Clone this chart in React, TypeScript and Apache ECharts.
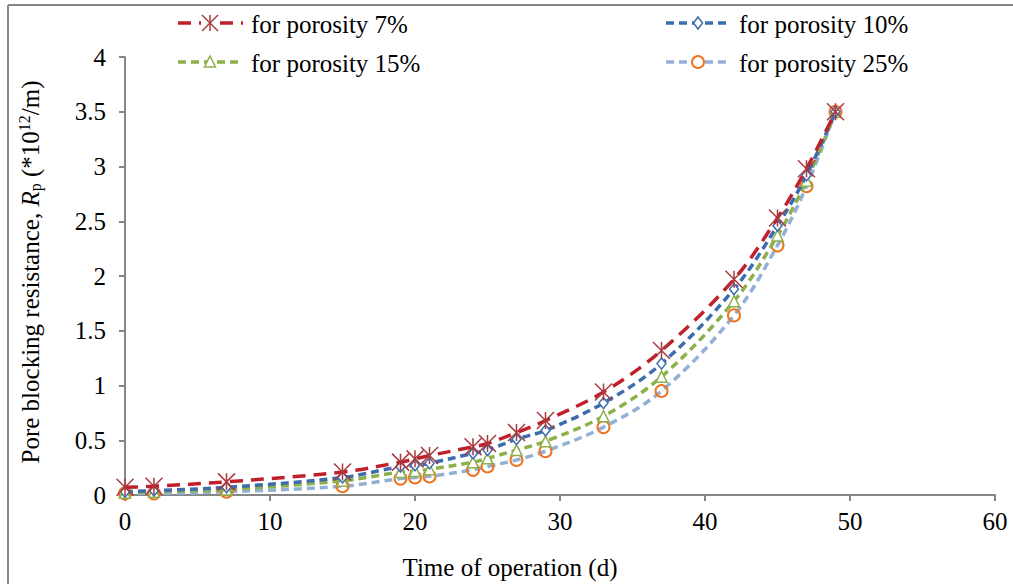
import React, { useEffect, useRef } from "react";
import * as echarts from "echarts";

const days = [0, 2, 7, 15, 19, 20, 21, 24, 25, 27, 29, 33, 37, 42, 45, 47, 49];
const p7 = [0.07, 0.08, 0.12, 0.21, 0.3, 0.33, 0.36, 0.44, 0.47, 0.57, 0.68, 0.94, 1.32, 1.97, 2.53, 2.98, 3.5];
const p10 = [0.03, 0.04, 0.07, 0.16, 0.26, 0.27, 0.29, 0.38, 0.41, 0.51, 0.59, 0.84, 1.2, 1.88, 2.46, 2.92, 3.5];
const p15 = [0.02, 0.03, 0.05, 0.13, 0.21, 0.22, 0.235, 0.3, 0.335, 0.41, 0.49, 0.72, 1.08, 1.77, 2.37, 2.87, 3.5];
const p25 = [0.015, 0.015, 0.03, 0.08, 0.15, 0.16, 0.17, 0.23, 0.26, 0.32, 0.4, 0.62, 0.95, 1.64, 2.28, 2.82, 3.5];
const seriesNames = ["for porosity 7%", "for porosity 10%", "for porosity 15%", "for porosity 25%"];

const FONT = "Liberation Serif";
const FS = 25;
const AXIS_COLOR = "#868686";
const ASTERISK = "path://M0,0 L10,10 M10,0 L0,10 M5,0 L5,10";

const LINE_COLORS = ["#C0202C", "#3D6DAE", "#8CB04B", "#93B0D6"];
const MARK_COLORS = ["#A83A3E", "#3D6DAE", "#8CB04B", "#EE7423"];
const DASHES = [[13, 8], [8, 5], [8, 5], [8, 5]];

// [iconLeft, rowCenterY]
const legendSlots = [
  [178, 23],
  [666, 23],
  [178, 62],
  [666, 62],
];

const zip = (vals: number[]) => days.map((d, i) => [d, vals[i]]);

function legendIcon(i: number, x0: number, y: number): any[] {
  const cx = x0 + 32;
  const els: any[] = [
    {
      type: "line",
      shape: { x1: x0, y1: y, x2: x0 + 65, y2: y },
      style: { stroke: LINE_COLORS[i], lineWidth: 3.5, lineDash: DASHES[i] },
    },
  ];
  const c = MARK_COLORS[i];
  if (i === 0) {
    const r = 8;
    els.push(
      { type: "rect", shape: { x: cx - 9, y: y - 9, width: 18, height: 18 }, style: { fill: "#fff" } },
      { type: "line", shape: { x1: cx - r, y1: y - r, x2: cx + r, y2: y + r }, style: { stroke: c, lineWidth: 1.5 } },
      { type: "line", shape: { x1: cx + r, y1: y - r, x2: cx - r, y2: y + r }, style: { stroke: c, lineWidth: 1.5 } },
      { type: "line", shape: { x1: cx, y1: y - r, x2: cx, y2: y + r }, style: { stroke: c, lineWidth: 1.5 } }
    );
  } else if (i === 1) {
    els.push({
      type: "polygon",
      shape: { points: [[cx, y - 6], [cx + 4.5, y], [cx, y + 6], [cx - 4.5, y]] },
      style: { fill: "#fff", stroke: c, lineWidth: 1.5 },
    });
  } else if (i === 2) {
    els.push({
      type: "polygon",
      shape: { points: [[cx, y - 6], [cx + 5.5, y + 5], [cx - 5.5, y + 5]] },
      style: { fill: "#fff", stroke: c, lineWidth: 1.5 },
    });
  } else {
    els.push({ type: "circle", shape: { cx, cy: y, r: 6 }, style: { fill: "#fff", stroke: c, lineWidth: 2 } });
  }
  return els;
}

export default function App() {
  const ref = useRef<HTMLDivElement>(null);
  useEffect(() => {
    if (!ref.current) return;
    const chart = echarts.init(ref.current, null, { renderer: "svg" });
    const legendEls: any[] = [];
    seriesNames.forEach((name, i) => {
      const [x0, y] = legendSlots[i];
      legendEls.push(...legendIcon(i, x0, y));
      legendEls.push({
        type: "text",
        x: x0 + 73,
        y: y + 1,
        style: {
          text: name,
          font: "25px 'Times New Roman', 'Liberation Serif', serif",
          fontFamily: "Times New Roman",
          fontSize: FS,
          fill: "#000",
          textAlign: "left",
          textVerticalAlign: "middle",
        },
      });
    });
    chart.setOption({
      animation: false,
      backgroundColor: "#fff",
      textStyle: { fontFamily: FONT, fontSize: FS, color: "#000" },
      grid: { left: 125, right: 18, top: 57, bottom: 89 },
      xAxis: {
        type: "value",
        min: 0,
        max: 60,
        interval: 10,
        axisLine: { show: true, lineStyle: { color: AXIS_COLOR, width: 2 } },
        axisTick: { show: true, length: 6, lineStyle: { color: AXIS_COLOR, width: 2 } },
        splitLine: { show: false },
        axisLabel: { fontFamily: FONT, fontSize: FS, color: "#000", margin: 14 },
      },
      yAxis: {
        type: "value",
        min: 0,
        max: 4,
        interval: 0.5,
        axisLine: { show: true, lineStyle: { color: AXIS_COLOR, width: 2 } },
        axisTick: { show: true, length: 6, lineStyle: { color: AXIS_COLOR, width: 2 } },
        splitLine: { show: false },
        axisLabel: { fontFamily: FONT, fontSize: FS, color: "#000", margin: 19 },
      },
      graphic: [
        { type: "line", shape: { x1: 8, y1: 5, x2: 1013, y2: 5 }, style: { stroke: AXIS_COLOR, lineWidth: 2 } },
        { type: "line", shape: { x1: 8, y1: 5, x2: 8, y2: 584 }, style: { stroke: AXIS_COLOR, lineWidth: 2 } },
        {
          type: "text",
          x: 510,
          y: 567,
          style: {
            text: "Time of operation (d)",
            fontFamily: FONT,
            fontSize: FS,
            fill: "#000",
            textAlign: "center",
            textVerticalAlign: "middle",
          },
        },
        {
          type: "text",
          x: 30,
          y: 272,
          rotation: Math.PI / 2,
          style: {
            text: "Pore blocking resistance, {i|R}{sub|p} (*10{sup|12}/m)",
            fontFamily: FONT,
            fontSize: FS,
            fill: "#000",
            textAlign: "center",
            textVerticalAlign: "middle",
            rich: {
              i: { fontFamily: FONT, fontSize: FS, fontStyle: "italic", fill: "#000" },
              sub: { fontFamily: FONT, fontSize: 16, fill: "#000", padding: [10, 0, 0, 0] },
              sup: { fontFamily: FONT, fontSize: 16, fill: "#000", padding: [0, 0, 12, 0] },
            },
          },
        },
        ...legendEls,
      ],
      series: [
        {
          name: seriesNames[0],
          type: "line",
          data: zip(p7),
          smooth: 0.35,
          symbol: ASTERISK,
          symbolSize: 17,
          z: 5,
          lineStyle: { color: LINE_COLORS[0], width: 3.5, type: DASHES[0] },
          itemStyle: { color: "none", borderColor: MARK_COLORS[0], borderWidth: 1.5 },
        },
        {
          name: seriesNames[1],
          type: "line",
          data: zip(p10),
          smooth: 0.35,
          symbol: "diamond",
          symbolSize: [9, 11],
          z: 4,
          lineStyle: { color: LINE_COLORS[1], width: 3.5, type: DASHES[1] },
          itemStyle: { color: "#fff", borderColor: MARK_COLORS[1], borderWidth: 1.5 },
        },
        {
          name: seriesNames[2],
          type: "line",
          data: zip(p15),
          smooth: 0.35,
          symbol: "triangle",
          symbolSize: [11, 11],
          z: 3,
          lineStyle: { color: LINE_COLORS[2], width: 3.5, type: DASHES[2] },
          itemStyle: { color: "#fff", borderColor: MARK_COLORS[2], borderWidth: 1.5 },
        },
        {
          name: seriesNames[3],
          type: "line",
          data: zip(p25),
          smooth: 0.35,
          symbol: "circle",
          symbolSize: 12,
          z: 2,
          lineStyle: { color: LINE_COLORS[3], width: 3.5, type: DASHES[3] },
          itemStyle: { color: "none", borderColor: MARK_COLORS[3], borderWidth: 2 },
        },
      ],
    });
    return () => chart.dispose();
  }, []);
  return <div ref={ref} style={{ position: "absolute", left: 0, top: 0, width: 1013, height: 584 }} />;
}
